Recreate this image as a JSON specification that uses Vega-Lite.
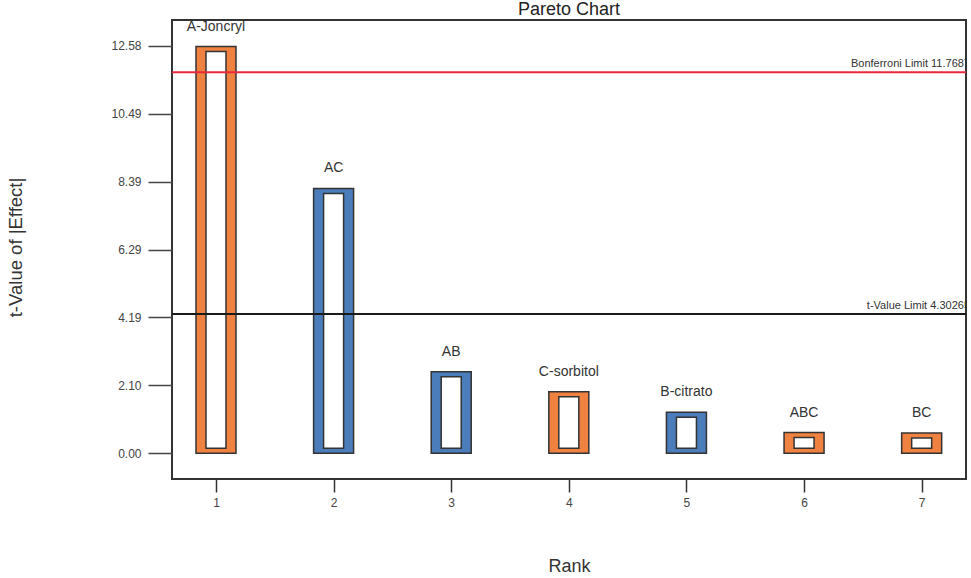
{
  "$schema": "https://vega.github.io/schema/vega-lite/v6.json",
  "width": 794,
  "height": 459,
  "autosize": "none",
  "padding": {"left": 172, "top": 20, "right": 5, "bottom": 99},
  "config": {
    "font": "Liberation Sans",
    "view": {"stroke": "#333", "strokeWidth": 2}
  },
  "title": {
    "text": "Pareto Chart",
    "fontSize": 18,
    "fontWeight": "normal",
    "color": "#222",
    "offset": 1,
    "anchor": "middle"
  },
  "datasets": {
    "effects": [
      {"rank": 1, "term": "A-Joncryl", "tvalue": 12.56, "effect": "Positive"},
      {"rank": 2, "term": "AC", "tvalue": 8.18, "effect": "Negative"},
      {"rank": 3, "term": "AB", "tvalue": 2.52, "effect": "Negative"},
      {"rank": 4, "term": "C-sorbitol", "tvalue": 1.9, "effect": "Positive"},
      {"rank": 5, "term": "B-citrato", "tvalue": 1.27, "effect": "Negative"},
      {"rank": 6, "term": "ABC", "tvalue": 0.64, "effect": "Positive"},
      {"rank": 7, "term": "BC", "tvalue": 0.63, "effect": "Positive"}
    ],
    "limits": [
      {"limit": "Bonferroni Limit 11.7687", "value": 11.7687},
      {"limit": "t-Value Limit 4.30265", "value": 4.30265}
    ]
  },
  "layer": [
    {
      "data": {"name": "effects"},
      "mark": {"type": "bar", "width": 40, "stroke": "#333", "strokeWidth": 1.5},
      "encoding": {
        "x": {
          "field": "rank",
          "type": "quantitative",
          "scale": {"domain": [0.626, 7.377], "nice": false, "zero": false, "padding": 0},
          "axis": {
            "values": [1, 2, 3, 4, 5, 6, 7],
            "format": "d",
            "grid": false,
            "domain": false,
            "tickSize": 13,
            "tickWidth": 1.5,
            "tickColor": "#333",
            "labelPadding": 5,
            "labelFontSize": 12,
            "labelColor": "#444",
            "title": "Rank",
            "titleFontSize": 18,
            "titleFontWeight": "normal",
            "titleColor": "#333",
            "titleX": 397,
            "titleY": 87,
            "titleBaseline": "middle",
            "titleAlign": "center"
          }
        },
        "y": {
          "field": "tvalue",
          "type": "quantitative",
          "scale": {"domain": [-0.794, 13.38], "nice": false, "zero": false, "padding": 0},
          "axis": {
            "values": [0, 2.097, 4.194, 6.291, 8.388, 10.486, 12.582],
            "format": ".2f",
            "grid": false,
            "domain": false,
            "tickSize": 24,
            "tickWidth": 1.5,
            "tickColor": "#444",
            "labelPadding": 7,
            "labelFontSize": 12,
            "labelColor": "#444",
            "title": "t-Value of |Effect|",
            "titleFontSize": 18.5,
            "titleFontWeight": "normal",
            "titleColor": "#333",
            "titleAngle": 270,
            "titleX": -157,
            "titleY": 227,
            "titleAlign": "center",
            "titleBaseline": "middle"
          }
        },
        "y2": {"datum": 0},
        "color": {
          "field": "effect",
          "type": "nominal",
          "scale": {"domain": ["Positive", "Negative"], "range": ["#F08241", "#4A7DBA"]},
          "legend": null
        }
      }
    },
    {
      "data": {"name": "effects"},
      "mark": {"type": "bar", "width": 20, "fill": "white", "stroke": "#333", "strokeWidth": 1.5, "yOffset": 5, "y2Offset": -5},
      "encoding": {
        "x": {"field": "rank", "type": "quantitative"},
        "y": {"field": "tvalue", "type": "quantitative"},
        "y2": {"datum": 0}
      }
    },
    {
      "data": {"name": "effects"},
      "mark": {"type": "text", "dy": -20, "baseline": "middle", "fontSize": 14, "color": "#333"},
      "encoding": {
        "x": {"field": "rank", "type": "quantitative"},
        "y": {"field": "tvalue", "type": "quantitative"},
        "text": {"field": "term"}
      }
    },
    {
      "data": {"name": "limits"},
      "mark": {"type": "rule", "strokeWidth": 2},
      "encoding": {
        "y": {"field": "value", "type": "quantitative"},
        "stroke": {
          "field": "limit",
          "type": "nominal",
          "scale": {"domain": ["Bonferroni Limit 11.7687", "t-Value Limit 4.30265"], "range": ["#E8283C", "#1a1a1a"]},
          "legend": null
        }
      }
    },
    {
      "data": {"name": "limits"},
      "mark": {"type": "text", "align": "right", "baseline": "middle", "dx": 4, "dy": -8, "fontSize": 11, "color": "#333", "clip": true},
      "encoding": {
        "x": {"value": "width"},
        "y": {"field": "value", "type": "quantitative"},
        "text": {"field": "limit"}
      }
    }
  ]
}
